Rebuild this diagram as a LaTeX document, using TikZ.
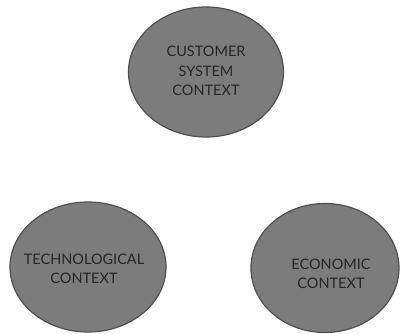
\documentclass[tikz,border=0pt]{standalone}
\usepackage{fontspec}
\setmainfont{Lato}
\usetikzlibrary{shapes.geometric}
\definecolor{ellfill}{HTML}{7C7C7C}
\definecolor{elldraw}{HTML}{505050}
\definecolor{elltext}{HTML}{262626}
\tikzset{
  ctx/.style={ellipse, draw=elldraw, line width=1.2pt, fill=ellfill, inner sep=0pt},
  ctxtext/.style={text=elltext, align=center, inner sep=0pt,
    font=\fontsize{14.5}{19.5}\selectfont}
}
\begin{document}
\begin{tikzpicture}[x=1pt,y=-1pt]
\useasboundingbox (0,0) rectangle (400,334);
\node[ctx, minimum width=155pt, minimum height=130pt] (cust) at (206,72) {};
\node[ctx, minimum width=156pt, minimum height=130pt] (tech) at (88,267) {};
\node[ctx, minimum width=148pt, minimum height=129pt] (econ) at (325,268) {};
\node[ctxtext] (custt) at ([shift={(0,-1)}]cust.center) {CUSTOMER\\SYSTEM\\CONTEXT};
\node[ctxtext] (techt) at ([shift={(-4,2)}]tech.center) {TECHNOLOGICAL\\CONTEXT};
\node[ctxtext] (econt) at ([shift={(6,6)}]econ.center) {ECONOMIC\\CONTEXT};
\end{tikzpicture}
\end{document}
